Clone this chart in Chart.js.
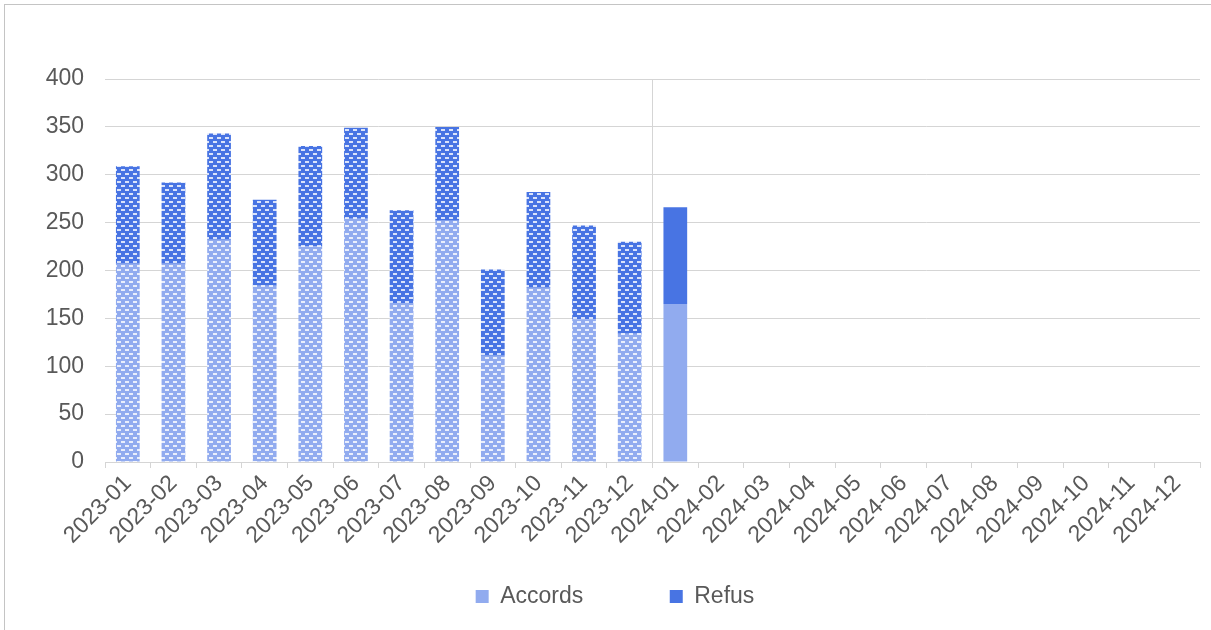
<!DOCTYPE html>
<html>
<head>
<meta charset="utf-8">
<script src="https://cdn.jsdelivr.net/npm/chart.js@4/dist/chart.umd.min.js"></script>
<style>
  html, body { margin: 0; padding: 0; background: #fff; }
  #wrap { position: relative; width: 1211px; height: 630px; overflow: hidden; }
  #frame { position: absolute; left: 4px; top: 4px; width: 1220px; height: 640px; border-left: 1px solid #c4c4c4; border-top: 1px solid #c4c4c4; box-sizing: border-box; }
  canvas { position: absolute; left: 0; top: 0; }
</style>
</head>
<body>
<div id="wrap">
  <div id="frame"></div>
  <canvas id="c" width="1211" height="630"></canvas>
</div>
<script>
const categories = ['2023-01','2023-02','2023-03','2023-04','2023-05','2023-06','2023-07','2023-08','2023-09','2023-10','2023-11','2023-12',
                    '2024-01','2024-02','2024-03','2024-04','2024-05','2024-06','2024-07','2024-08','2024-09','2024-10','2024-11','2024-12'];
const accords = [207, 207, 232, 184, 225, 254, 166, 252, 111, 182, 149, 134, 165, null, null, null, null, null, null, null, null, null, null, null];
const refus   = [102,  85, 111,  90, 105,  95,  97,  98,  90, 100,  98,  96, 101, null, null, null, null, null, null, null, null, null, null, null];
const yTicks = [0, 50, 100, 150, 200, 250, 300, 350, 400];
const seriesNames = ['Accords', 'Refus'];
const patternedCount = 12; // months of 2023 drawn with the dashed pattern

const colAccords = '#91abef';
const colRefus = '#4874e3';

function makePattern(base) {
  const p = document.createElement('canvas');
  p.width = 8; p.height = 8;
  const g = p.getContext('2d');
  g.fillStyle = base;
  g.fillRect(0, 0, 8, 8);
  g.fillStyle = 'rgba(255,255,255,0.8)';
  g.fillRect(1, 1, 4, 2);
  g.fillRect(5, 5, 3, 2);
  g.fillRect(0, 5, 1, 2);
  return g.createPattern(p, 'repeat');
}

const ctx = document.getElementById('c').getContext('2d');
const patA = makePattern(colAccords);
const patR = makePattern(colRefus);

function fills(pattern, solid) {
  return categories.map((_, i) => i < patternedCount ? pattern : solid);
}

const fontFamily = '"Liberation Sans", Arial, sans-serif';
const txt = '#595959';
const gridCol = '#d5d5d5';
const fontSize = 23;

new Chart(ctx, {
  type: 'bar',
  data: {
    labels: categories,
    datasets: [
      { label: seriesNames[0], data: accords, backgroundColor: fills(patA, colAccords), borderWidth: 0 },
      { label: seriesNames[1], data: refus, backgroundColor: fills(patR, colRefus), borderWidth: 0 }
    ]
  },
  options: {
    responsive: false,
    animation: false,
    layout: { padding: { top: 79, right: 11, left: 30, bottom: 12 } },
    datasets: { bar: { barPercentage: 0.52, categoryPercentage: 1 } },
    plugins: {
      tooltip: { enabled: false },
      legend: {
        position: 'bottom',
        labels: {
          font: { family: fontFamily, size: fontSize },
          color: txt,
          boxWidth: 13,
          boxHeight: 13,
          padding: 31,
          generateLabels: (chart) => {
            const items = chart.data.datasets.map((ds, i) => ({
              text: ds.label,
              fillStyle: i === 0 ? colAccords : colRefus,
              strokeStyle: 'rgba(0,0,0,0)',
              lineWidth: 0,
              fontColor: txt,
              datasetIndex: i,
              hidden: false
            }));
            // blank spacer entry to widen the gap between the two keys
            items.splice(1, 0, { text: '', fillStyle: 'rgba(0,0,0,0)', strokeStyle: 'rgba(0,0,0,0)', lineWidth: 0, fontColor: txt, hidden: false });
            return items;
          }
        }
      }
    },
    scales: {
      x: {
        stacked: true,
        afterFit: (s) => { s.height = 92; },
        grid: {
          offset: true,
          color: (c) => c.index === 12 ? gridCol : 'rgba(0,0,0,0)',
          tickColor: gridCol,
          tickLength: 6,
          lineWidth: 1
        },
        border: { display: true, color: gridCol, width: 1 },
        ticks: {
          minRotation: 45, maxRotation: 45, autoSkip: false,
          font: { family: fontFamily, size: fontSize },
          color: txt,
          padding: 2
        }
      },
      y: {
        stacked: true,
        min: 0, max: 400,
        afterFit: (s) => { s.width = 75; },
        afterBuildTicks: (s) => { s.ticks = yTicks.map(v => ({ value: v })); },
        grid: { color: gridCol, lineWidth: 1, drawTicks: false },
        border: { display: false },
        ticks: {
          font: { family: fontFamily, size: fontSize },
          color: txt,
          padding: 21
        }
      }
    }
  }
});
</script>
</body>
</html>
